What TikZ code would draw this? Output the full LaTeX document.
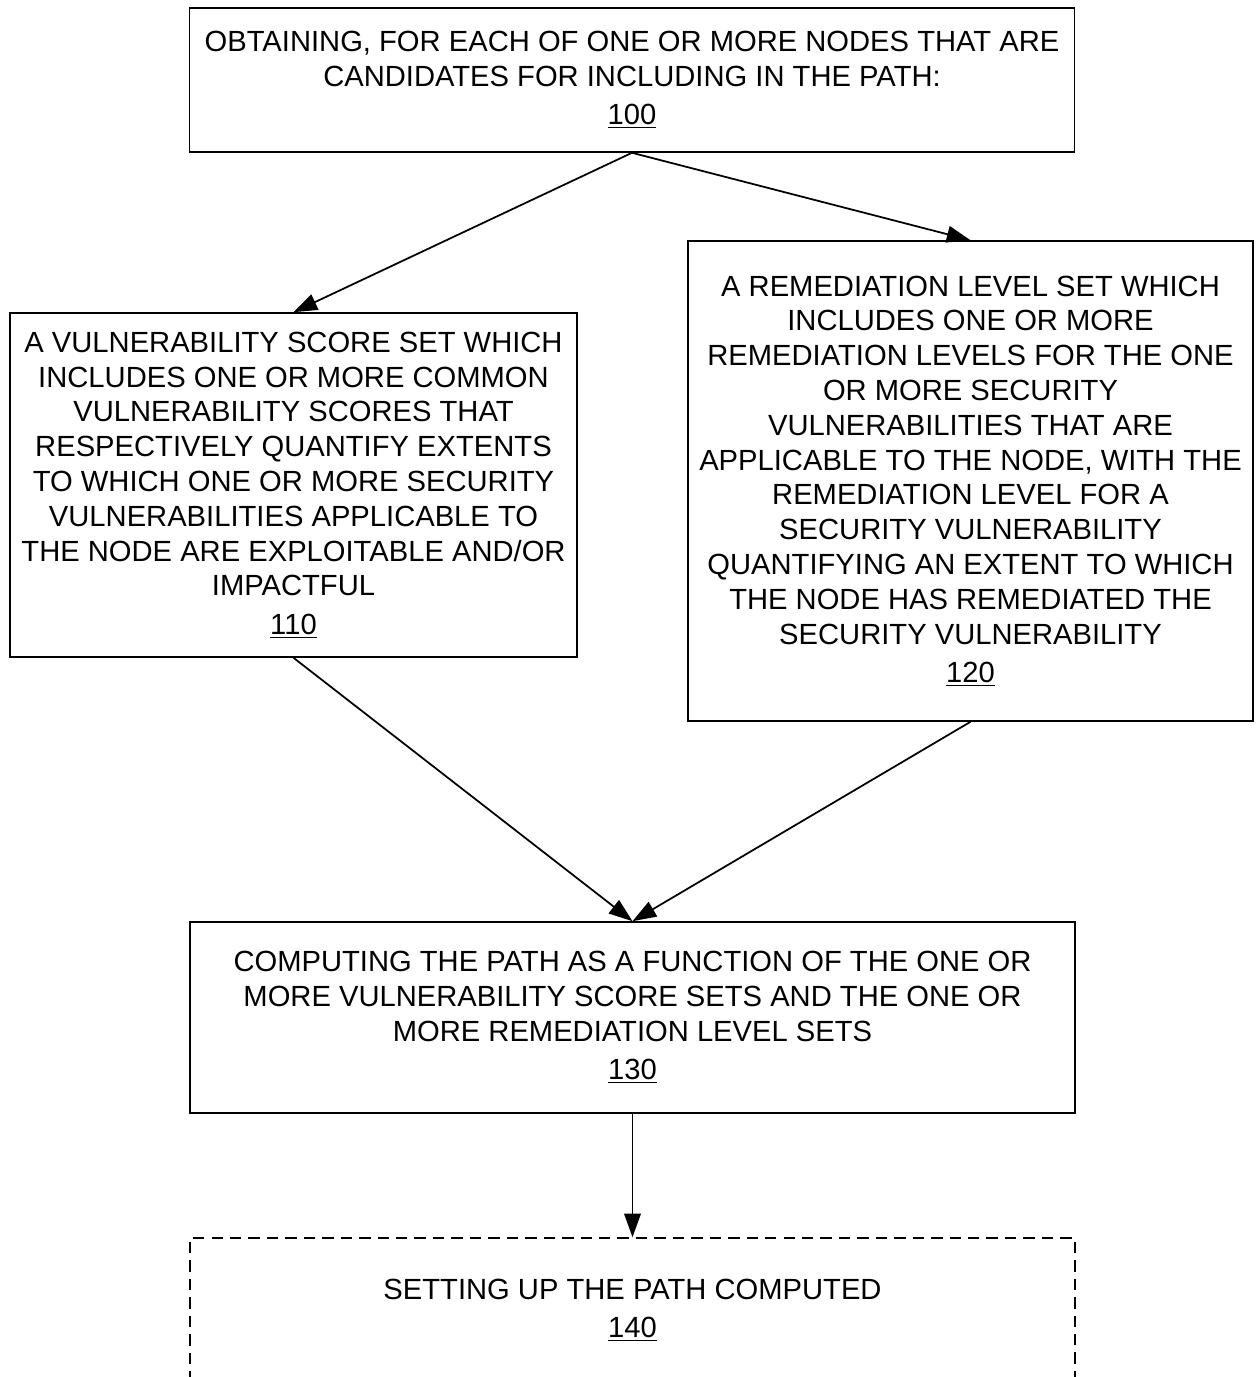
\documentclass[tikz,border=0pt]{standalone}
\usepackage{fontspec}
\setmainfont{Liberation Sans}
\usetikzlibrary{arrows.meta}

\tikzset{
  stepbox/.style={draw, line width=0.9pt, align=center, inner sep=0pt,
    font=\fontsize{16.6}{19.8}\selectfont},
  optbox/.style={stepbox, dash pattern=on 6.5pt off 4pt},
  flow/.style={-{Triangle[length=13.5pt,width=9.5pt]}, line width=1pt}
}

\begin{document}
\begin{tikzpicture}
\useasboundingbox (0,0) rectangle (25.16,-27.54);

\node[stepbox, minimum width=17.7cm, minimum height=2.88cm] (obtain) at (12.64,-1.6)
	{OBTAINING, FOR EACH OF ONE OR MORE NODES THAT ARE\\ CANDIDATES FOR INCLUDING IN THE PATH:\\[2pt] \underline{100}};

\node[stepbox, minimum width=11.34cm, minimum height=6.88cm] (score) at (5.87,-9.7)
	{A VULNERABILITY SCORE SET WHICH\\ INCLUDES ONE OR MORE COMMON\\ VULNERABILITY SCORES THAT\\ RESPECTIVELY QUANTIFY EXTENTS\\ TO WHICH ONE OR MORE SECURITY\\ VULNERABILITIES APPLICABLE TO\\ THE NODE ARE EXPLOITABLE AND/OR\\ IMPACTFUL\\[2pt] \underline{110}};

\node[stepbox, minimum width=11.3cm, minimum height=9.6cm] (remed) at (19.41,-9.62)
	{A REMEDIATION LEVEL SET WHICH\\ INCLUDES ONE OR MORE\\ REMEDIATION LEVELS FOR THE ONE\\ OR MORE SECURITY\\ VULNERABILITIES THAT ARE\\ APPLICABLE TO THE NODE, WITH THE\\ REMEDIATION LEVEL FOR A\\ SECURITY VULNERABILITY\\ QUANTIFYING AN EXTENT TO WHICH\\ THE NODE HAS REMEDIATED THE\\ SECURITY VULNERABILITY\\[2pt] \underline{120}};

\node[stepbox, minimum width=17.7cm, minimum height=3.82cm] (compute) at (12.65,-20.35)
	{COMPUTING THE PATH AS A FUNCTION OF THE ONE OR\\ MORE VULNERABILITY SCORE SETS AND THE ONE OR\\ MORE REMEDIATION LEVEL SETS\\[2pt] \underline{130}};

% optional step, cut off at the page edge
\node[optbox, minimum width=17.7cm, minimum height=2.9cm] (setup) at (12.65,-26.21)
	{SETTING UP THE PATH COMPUTED\\[2pt] \underline{140}};

\draw[flow] (obtain.south) -- (score.north);
\draw[flow] (obtain.south) -- (remed.north);
\draw[flow] (score.south) -- (compute.north);
\draw[flow] (remed.south) -- (compute.north);
\draw[flow] (compute.south) -- (setup.north);

\end{tikzpicture}
\end{document}
